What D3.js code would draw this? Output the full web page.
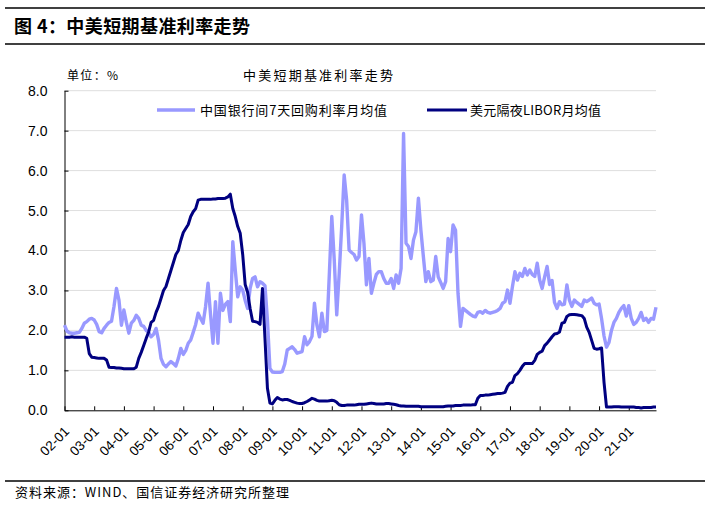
<!DOCTYPE html>
<html>
<head>
<meta charset="utf-8">
<script src="https://cdn.jsdelivr.net/npm/d3@7"></script>
<style>
  body { margin: 0; background: #fff; }
  .cn { font-family: "Noto Sans CJK SC", sans-serif; }
  .tick text { font-family: "Liberation Sans", Arial, sans-serif; fill: #000; }
</style>
</head>
<body>
<svg id="chart"></svg>
<script>
// ------------------------------------------------------------
// 中美短期基准利率走势: monthly averages, 2002-01 .. 2021-12
// ------------------------------------------------------------

// Year tick labels (one tick every 12 months).
const yearLabels = ["02-01", "03-01", "04-01", "05-01", "06-01", "07-01", "08-01",
  "09-01", "10-01", "11-01", "12-01", "13-01", "14-01", "15-01", "16-01", "17-01",
  "18-01", "19-01", "20-01", "21-01"];

// Y axis tick values.
const yTicks = [0, 1, 2, 3, 4, 5, 6, 7, 8];

// 中国银行间7天回购利率月均值 (one row per year).
const cnRepo = [
  2.13, 1.98, 1.94, 1.93, 1.93, 1.94, 1.95, 2.05, 2.18, 2.22, 2.28, 2.30,
  2.26, 2.15, 1.97, 1.94, 2.05, 2.13, 2.20, 2.23, 2.60, 3.05, 2.76, 2.13,
  2.51, 2.20, 1.93, 2.18, 2.25, 2.38, 2.30, 2.13, 2.10, 2.00, 1.95, 1.84,
  1.90, 2.05, 1.75, 1.30, 1.15, 1.09, 1.16, 1.22, 1.17, 1.11, 1.30, 1.55,
  1.40, 1.50, 1.68, 1.76, 1.95, 2.15, 2.43, 2.30, 2.18, 2.60, 3.18, 2.40,
  1.68, 2.72, 1.68, 2.93, 2.50, 2.65, 2.72, 2.22, 4.22, 3.51, 2.84, 3.09,
  3.01, 2.75, 2.55, 3.05, 3.30, 3.34, 3.09, 3.22, 3.18, 3.12, 2.26, 1.05,
  0.96, 0.95, 0.95, 0.95, 0.97, 1.16, 1.51, 1.55, 1.59, 1.52, 1.43, 1.45,
  1.47, 1.84, 1.64, 1.72, 1.85, 2.68, 2.13, 1.84, 2.43, 1.97, 2.00, 3.40,
  4.85, 3.76, 2.39, 3.43, 4.60, 5.89, 5.26, 4.01, 3.95, 3.90, 3.76, 3.85,
  4.89, 4.18, 3.14, 3.80, 2.93, 3.18, 3.40, 3.47, 3.47, 3.30, 3.18, 3.18,
  3.30, 3.05, 3.39, 3.18, 3.55, 6.93, 4.18, 4.10, 3.80, 4.26, 4.47, 5.31,
  4.51, 3.85, 3.22, 3.47, 3.22, 3.26, 3.85, 3.34, 3.20, 3.05, 3.22, 4.30,
  3.97, 4.64, 4.51, 2.93, 2.10, 2.55, 2.50, 2.45, 2.40, 2.36, 2.34, 2.45,
  2.47, 2.43, 2.50, 2.45, 2.43, 2.45, 2.47, 2.50, 2.55, 2.68, 2.72, 3.01,
  2.68, 3.10, 3.47, 3.26, 3.43, 3.35, 3.55, 3.39, 3.51, 3.40, 3.35, 3.68,
  3.26, 3.05, 3.34, 3.60, 3.15, 3.25, 2.70, 2.55, 2.72, 2.64, 2.66, 3.14,
  2.76, 2.60, 2.76, 2.70, 2.65, 2.60, 2.76, 2.72, 2.76, 2.81, 2.68, 2.64,
  2.66, 2.30, 1.86, 1.58, 1.70, 2.00, 2.20, 2.30, 2.45, 2.55, 2.62, 2.36,
  2.62, 2.30, 2.15, 2.20, 2.30, 2.45, 2.25, 2.30, 2.20, 2.30, 2.28, 2.58
];

// 美元隔夜LIBOR月均值 (one row per year).
const usLibor = [
  1.83, 1.83, 1.83, 1.84, 1.83, 1.83, 1.83, 1.83, 1.83, 1.80, 1.42, 1.33,
  1.32, 1.31, 1.30, 1.30, 1.30, 1.26, 1.08, 1.07, 1.07, 1.06, 1.06, 1.05,
  1.04, 1.04, 1.04, 1.04, 1.04, 1.08, 1.30, 1.45, 1.62, 1.80, 1.96, 2.20,
  2.25, 2.45, 2.60, 2.80, 3.00, 3.10, 3.30, 3.50, 3.70, 3.90, 4.00, 4.25,
  4.45, 4.55, 4.65, 4.85, 4.97, 5.05, 5.26, 5.28, 5.28, 5.28, 5.28, 5.28,
  5.29, 5.29, 5.30, 5.30, 5.30, 5.31, 5.34, 5.41, 5.05, 4.85, 4.60, 4.43,
  3.90, 3.15, 2.95, 2.55, 2.23, 2.22, 2.20, 2.15, 3.05, 1.80, 0.55, 0.18,
  0.16, 0.25, 0.32, 0.28, 0.26, 0.27, 0.27, 0.25, 0.22, 0.20, 0.18, 0.17,
  0.17, 0.19, 0.22, 0.26, 0.30, 0.28, 0.25, 0.23, 0.23, 0.23, 0.23, 0.24,
  0.25, 0.24, 0.20, 0.14, 0.12, 0.12, 0.13, 0.13, 0.13, 0.13, 0.14, 0.15,
  0.15, 0.15, 0.16, 0.17, 0.18, 0.17, 0.16, 0.16, 0.16, 0.16, 0.17, 0.17,
  0.16, 0.15, 0.14, 0.12, 0.11, 0.11, 0.10, 0.10, 0.10, 0.10, 0.10, 0.10,
  0.09, 0.09, 0.09, 0.09, 0.09, 0.09, 0.09, 0.09, 0.09, 0.09, 0.10, 0.11,
  0.11, 0.11, 0.12, 0.12, 0.12, 0.13, 0.13, 0.13, 0.13, 0.14, 0.14, 0.30,
  0.37, 0.37, 0.38, 0.38, 0.39, 0.40, 0.41, 0.42, 0.42, 0.43, 0.45, 0.60,
  0.68, 0.70, 0.87, 0.92, 1.00, 1.10, 1.17, 1.17, 1.17, 1.17, 1.25, 1.40,
  1.45, 1.48, 1.62, 1.68, 1.76, 1.84, 1.91, 1.92, 1.96, 2.18, 2.20, 2.35,
  2.39, 2.40, 2.40, 2.39, 2.38, 2.37, 2.30, 2.08, 1.95, 1.75, 1.55, 1.53,
  1.54, 1.56, 0.70, 0.08, 0.08, 0.08, 0.09, 0.09, 0.09, 0.08, 0.08, 0.08,
  0.08, 0.08, 0.08, 0.07, 0.07, 0.06, 0.07, 0.07, 0.07, 0.07, 0.08, 0.08
];

const seriesNames = ["中国银行间7天回购利率月均值", "美元隔夜LIBOR月均值"];
const seriesColors = ["#9999ff", "#000080"];

const width = 710, height = 508;
const svg = d3.select("#chart").attr("width", width).attr("height", height);

// Scales: month index on x, percent on y.
const x = d3.scaleLinear().domain([0, cnRepo.length - 1]).range([64.5, 656]);
const y = d3.scaleLinear().domain([0, 8]).range([410.3, 90.7]);

// Page frame: rules and headings.
svg.append("line").attr("x1", 5).attr("x2", 705).attr("y1", 8).attr("y2", 8)
  .attr("stroke", "#000").attr("stroke-width", 1.5);
svg.append("line").attr("x1", 5).attr("x2", 705).attr("y1", 44).attr("y2", 44)
  .attr("stroke", "#000").attr("stroke-width", 1.5);
svg.append("line").attr("x1", 5).attr("x2", 705).attr("y1", 481).attr("y2", 481)
  .attr("stroke", "#000").attr("stroke-width", 1.5);

svg.append("text").attr("class", "cn")
  .attr("x", 14).attr("y", 33)
  .style("font-size", "18px").style("font-weight", "bold")
  .attr("textLength", 236).attr("lengthAdjust", "spacing")
  .text("图 4：中美短期基准利率走势");

svg.append("text").attr("class", "cn")
  .attr("x", 15).attr("y", 497)
  .style("font-size", "13px")
  .attr("textLength", 274).attr("lengthAdjust", "spacing")
  .text("资料来源：WIND、国信证券经济研究所整理");

svg.append("text").attr("class", "cn")
  .attr("x", 67).attr("y", 80)
  .style("font-size", "12px")
  .attr("textLength", 51).attr("lengthAdjust", "spacing")
  .text("单位：%");

svg.append("text").attr("class", "cn")
  .attr("x", 243).attr("y", 80)
  .style("font-size", "13px")
  .attr("textLength", 150).attr("lengthAdjust", "spacing")
  .text("中美短期基准利率走势");

// Dotted gridlines.
svg.append("g")
  .selectAll("line")
  .data(yTicks.filter(d => d > 0))
  .join("line")
  .attr("x1", x(0)).attr("x2", x(cnRepo.length - 1))
  .attr("y1", d => y(d)).attr("y2", d => y(d))
  .attr("stroke", "#bdbdbd").attr("stroke-width", 1)
  .attr("stroke-dasharray", "1,1");

// Y axis with inward ticks.
const yAxis = svg.append("g")
  .attr("transform", `translate(${x(0)},0)`)
  .call(d3.axisLeft(y).tickValues(yTicks).tickFormat(d3.format(".1f"))
    .tickSizeInner(-4).tickSizeOuter(0).tickPadding(17));
yAxis.selectAll("text").style("font-size", "14px");

// X axis with inward ticks every 12 months; labels rotated.
const xAxis = svg.append("g")
  .attr("transform", `translate(0,${y(0)})`)
  .call(d3.axisBottom(x).tickValues(yearLabels.map((d, i) => i * 12))
    .tickFormat((d, i) => yearLabels[i])
    .tickSizeInner(-4).tickSizeOuter(0));
xAxis.selectAll("text")
  .style("font-size", "13.5px")
  .attr("text-anchor", "end")
  .attr("y", 0).attr("dy", 0)
  .attr("transform", "translate(5,22) rotate(-45)");
svg.selectAll(".domain, .tick line").attr("stroke", "#000");

// Series lines.
const lineGen = d3.line().x((d, i) => x(i)).y(d => y(d));
[cnRepo, usLibor].forEach((values, k) => {
  svg.append("path")
    .datum(values)
    .attr("fill", "none")
    .attr("stroke", seriesColors[k])
    .attr("stroke-width", k === 0 ? 3.4 : 3)
    .attr("stroke-linejoin", "round")
    .attr("d", lineGen);
});

// Legend.
const legendItems = [
  { x1: 157, x2: 195, tx: 200, len: 187 },
  { x1: 427, x2: 467, tx: 470, len: 131 }
];
legendItems.forEach((it, k) => {
  svg.append("line")
    .attr("x1", it.x1).attr("x2", it.x2).attr("y1", 110).attr("y2", 110)
    .attr("stroke", seriesColors[k]).attr("stroke-width", k === 0 ? 3.4 : 3);
  svg.append("text").attr("class", "cn")
    .attr("x", it.tx).attr("y", 115)
    .style("font-size", "13px")
    .attr("textLength", it.len).attr("lengthAdjust", "spacing")
    .text(seriesNames[k]);
});
</script>
</body>
</html>
